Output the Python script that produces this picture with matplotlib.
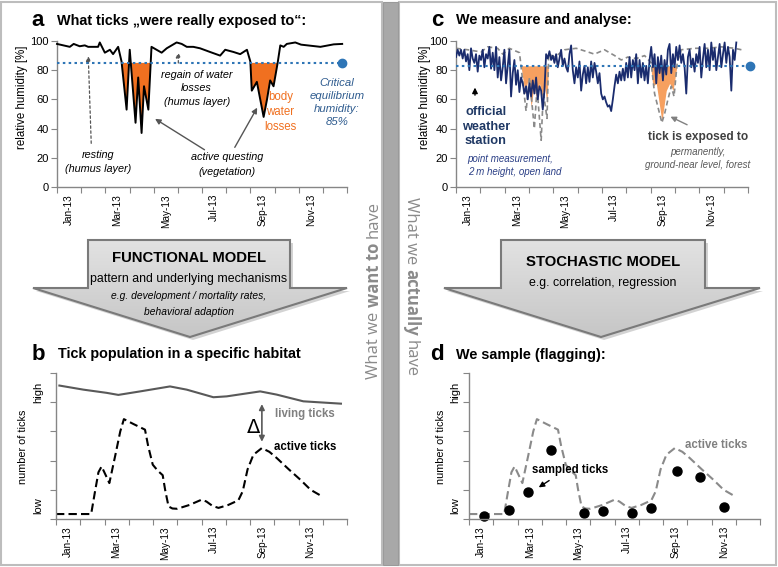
import numpy as np
import matplotlib
matplotlib.use('Agg')
import matplotlib.pyplot as plt
from matplotlib.patches import Polygon, Rectangle
from matplotlib.colors import LinearSegmentedColormap

FAM = ['Liberation Sans', 'DejaVu Sans']
plt.rcParams['font.family'] = FAM

# ---------------- data ----------------
month_labels = ['Jan-13', 'Mar-13', 'May-13', 'Jul-13', 'Sep-13', 'Nov-13']
month_label_pos = [0.5, 2.5, 4.5, 6.5, 8.5, 10.5]

# panel a: humidity ticks were exposed to (x in months since Jan 1)
a_x = [0, 0.53, 0.69, 0.94, 1.15, 1.29, 1.7, 1.77, 1.98, 2.19, 2.32, 2.53, 2.67, 2.88, 3.01,
       3.25, 3.36, 3.5, 3.6, 3.78, 3.91, 4.12, 4.33, 4.54, 4.95, 5.16, 5.37, 5.64, 5.92, 6.33,
       6.75, 6.96, 7.3, 7.58, 7.86, 8.0, 8.06, 8.27, 8.55, 8.69, 8.82, 8.96, 9.13, 9.24, 9.38,
       9.51, 9.86, 10.1, 10.9, 11.45, 11.8]
a_y = [98, 96, 98, 96.4, 97, 96, 96, 99, 92, 94, 91, 96, 86, 53, 94,
       44, 75, 37, 69, 53, 96, 94, 92, 95, 99, 98, 96, 96, 95, 92.5,
       90, 94, 92.5, 91, 94, 86, 66, 72, 48, 60, 73, 69, 85, 97, 96,
       98, 99, 97.5, 96, 97.7, 98]
a_critical = 85
a_critical_end = 11.8

# panel c: official weather station (roughly every two days)
c_station = [89, 94, 90, 94, 88, 94, 86, 91, 80, 95, 88, 85, 91, 79, 90,
             87, 94, 82, 91, 88, 96, 81, 92, 80, 96, 75, 89, 73, 82,
             94, 71, 83, 94, 62, 78, 87, 70, 80, 65, 75, 71, 64, 69,
             60, 71, 62, 73, 64, 75, 60, 69, 66, 53, 66, 91, 88, 93, 87, 90,
             85, 91, 82, 88, 94, 83, 88, 82, 79, 91, 97, 80, 71, 82,
             75, 86, 66, 77, 83, 71, 82, 72, 86, 75, 85, 79, 71, 78,
             64, 60, 62, 58, 55, 56, 52, 60, 69, 77, 71, 79, 73, 81, 73,
             85, 75, 89, 75, 87, 80, 91, 71, 87, 75, 85, 73, 83, 71, 87,
             96, 82, 91, 71, 89, 78, 90, 73, 87, 77, 94, 98, 78, 91,
             82, 96, 87, 97, 85, 91, 82, 64, 89, 94, 82, 88, 79, 91, 85,
             96, 75, 88, 98, 82, 94, 80, 99, 87, 95, 80, 89, 98, 82, 91,
             99, 85, 96, 89, 66, 94, 87, 99]
c_station_start, c_station_end = 0.0, 11.52

# panel c: what the tick is exposed to (grey dashed)
c_exp_x = [0, 0.48, 1.03, 1.30, 1.71, 1.92, 2.19, 2.61, 2.67, 2.88, 3.02, 3.22, 3.33, 3.50,
           3.59, 3.74, 3.81, 4.05, 4.46, 4.94, 5.42, 5.69, 6.10, 6.52, 6.79, 7.06, 7.41, 7.75,
           8.02, 8.16, 8.46, 8.57, 8.71, 8.85, 8.96, 9.09, 9.26, 9.81, 10.36, 10.91, 11.45, 11.73]
c_exp_y = [95, 94, 92.5, 96, 95, 91, 95, 92, 83, 52, 75, 40, 68, 32,
           65, 47, 91, 89, 94, 95, 92.5, 91, 94, 90, 87, 89, 88, 90,
           85, 64, 44, 50, 60, 69, 62, 85, 94, 95, 95, 96, 95, 94]
c_fill1_x = [2.67, 2.74, 2.84, 2.95, 3.09, 3.20, 3.32, 3.43, 3.53, 3.64, 3.74, 3.80]
c_fill1_y = [83, 75, 64, 73, 55, 69, 60, 71, 62, 69, 57, 83]
c_fill2_x = [8.0, 8.09, 8.23, 8.46, 8.64, 8.78, 8.92, 9.08]
c_fill2_y = [83, 69, 71, 45, 66, 71, 66, 83]
c_critical = 83
c_critical_end = 12.07

# panel b / d: tick numbers (relative scale 0..5)
living_x = [0.14, 1.13, 2.09, 2.57, 3.47, 4.7, 5.39, 6.49, 7.04, 8.42, 9.1, 10.2, 11.75]
living_y = [4.57, 4.43, 4.32, 4.25, 4.37, 4.54, 4.43, 4.17, 4.2, 4.37, 4.26, 4.03, 3.95]
active_x = [0.0, 1.45, 1.6, 1.75, 1.88, 2.05, 2.2, 2.45, 2.65, 2.8, 3.2, 3.67, 3.8, 3.99, 4.2,
            4.4, 4.5, 4.64, 4.8, 5.0, 5.5, 6.0, 6.2, 6.45, 6.7, 7.1, 7.52, 7.7, 7.9, 8.14,
            8.49, 8.8, 9.1, 9.6, 10.07, 10.5, 10.96]
active_y = [0.17, 0.17, 0.9, 1.6, 1.8, 1.5, 1.23, 2.2, 3.0, 3.42, 3.25, 3.06, 2.5, 1.86, 1.65,
            1.5, 1.0, 0.43, 0.36, 0.35, 0.48, 0.66, 0.6, 0.45, 0.38, 0.48, 0.64, 0.95, 1.7, 2.2,
            2.43, 2.3, 2.09, 1.7, 1.35, 1.0, 0.78]
sample_x = [0.62, 1.65, 2.45, 3.40, 4.73, 5.53, 6.71, 7.51, 8.57, 9.52, 10.52]
sample_y = [0.11, 0.32, 0.93, 2.35, 0.21, 0.26, 0.19, 0.37, 1.64, 1.43, 0.41]

# ---------------- colours ----------------
AX_GREY = '#868686'
ORANGE = '#F07020'
ORANGE_L = '#F6A060'
NAVY = '#1A2C6E'
CRIT = '#2E75B6'
CRIT_TXT = '#2F5C8F'

W, H = 778, 567
fig = plt.figure(figsize=(W / 100, H / 100), dpi=100)
fig.patch.set_facecolor('white')

# overlay axes in pixel coordinates
ov = fig.add_axes([0, 0, 1, 1], zorder=0)
ov.set_xlim(0, W)
ov.set_ylim(H, 0)
ov.axis('off')

# panel frames and centre stripe
ov.add_patch(Rectangle((1.5, 1.5), 381, 563.5, fill=False, ec='#BDBDBD', lw=1.5))
ov.add_patch(Rectangle((399.5, 1.5), 376.5, 563.5, fill=False, ec='#BDBDBD', lw=1.5))
ov.add_patch(Rectangle((383.5, 1.5), 15, 563.5, fc='#A8A8A8', ec='#9A9A9A', lw=0.8))

grad_cmap = LinearSegmentedColormap.from_list('g', ['#E2E2E2', '#C6C6C6'])


def block_arrow(sl, sr, top, hb, hl, hr, tipx, tipy):
    pts = [(sl, top), (sr, top), (sr, hb), (hr, hb), (tipx, tipy), (hl, hb), (sl, hb)]
    shadow = Polygon([(x + 3, y + 3) for x, y in pts], closed=True, fc='#9E9E9E', ec='none',
                     alpha=0.45, zorder=1)
    ov.add_patch(shadow)
    poly = Polygon(pts, closed=True, fc='none', ec='#7A7A7A', lw=1.5, zorder=3)
    ov.add_patch(poly)
    grad = np.linspace(0, 1, 100).reshape(-1, 1)
    im = ov.imshow(grad, cmap=grad_cmap, extent=(hl, hr, tipy, top), origin='upper',
                   aspect='auto', zorder=2)
    clip = Polygon(pts, closed=True, transform=ov.transData)
    im.set_clip_path(clip)


block_arrow(88, 290, 240, 288, 33, 347, 190, 337)
block_arrow(501, 705, 240, 288, 444, 760, 601, 337)
ov.set_xlim(0, W)
ov.set_ylim(H, 0)

ov.text(189, 258, 'FUNCTIONAL MODEL', ha='center', va='center', fontsize=10.7, fontweight='bold', zorder=5)
ov.text(189, 279, 'pattern and underlying mechanisms', ha='center', va='center', fontsize=8.9, zorder=5)
ov.text(189, 296, 'e.g. development / mortality rates,', ha='center', va='center', fontsize=7.4,
        style='italic', zorder=5)
ov.text(189, 312, 'behavioral adaption', ha='center', va='center', fontsize=7.4, style='italic', zorder=5)
ov.text(603, 262, 'STOCHASTIC MODEL', ha='center', va='center', fontsize=10.7, fontweight='bold', zorder=5)
ov.text(603, 283, 'e.g. correlation, regression', ha='center', va='center', fontsize=8.9, zorder=5)

# panel letters and titles
for letter, lx, tx, ty, title in [('a', 38, 57, 21, 'What ticks \u201ewere really exposed to\u201c:'),
                                  ('c', 437, 456, 20, 'We measure and analyse:'),
                                  ('b', 38, 58, 354, 'Tick population in a specific habitat'),
                                  ('d', 437, 456, 355, 'We sample (flagging):')]:
    ov.text(lx, ty, letter, ha='center', va='center', fontsize=16, fontweight='bold')
    ov.text(tx, ty, title, ha='left', va='center', fontsize=10.4, fontweight='bold')

# y-axis labels
ov.text(22, 97, 'relative humidity [%]', rotation=90, ha='center', va='center', fontsize=8.3)
ov.text(425, 97, 'relative humidity [%]', rotation=90, ha='center', va='center', fontsize=8.3)
ov.text(23, 447, 'number of ticks', rotation=90, ha='center', va='center', fontsize=7.8)
ov.text(441, 447, 'number of ticks', rotation=90, ha='center', va='center', fontsize=7.8)
for xx in (38, 455):
    ov.text(xx, 392, 'high', rotation=90, ha='center', va='center', fontsize=8)
    ov.text(xx, 506, 'low', rotation=90, ha='center', va='center', fontsize=8)

# rotated mixed-weight side texts
renderer = fig.canvas.get_renderer()
VFONT = ['Open Sans', 'DejaVu Sans']


def text_w(s, weight, fs):
    t = ov.text(0, 0, s, fontsize=fs, fontweight=weight, family=VFONT)
    w = t.get_window_extent(renderer=renderer).width
    t.remove()
    return w


def side_text(x, yc, parts, rotation, fs=12, color='#8A8A8A'):
    sp = text_w('a a', 'normal', fs) - text_w('aa', 'normal', fs)
    widths = []
    for s, wgt in parts:
        widths.append(text_w(s, wgt, fs))
    total = sum(widths) + sp * (len(parts) - 1)
    if rotation == 90:
        pos = yc + total / 2
        step = -1
    else:
        pos = yc - total / 2
        step = 1
    for (s, wgt), w in zip(parts, widths):
        ov.text(x, pos, s, rotation=rotation, rotation_mode='anchor', ha='left', va='center',
                fontsize=fs, fontweight=wgt, color=color, family=VFONT)
        pos += step * (w + sp)


side_text(374, 290, [('What we', 'normal'), ('want to', 'bold'), ('have', 'normal')], 90)
side_text(411, 287, [('What we', 'normal'), ('actually', 'bold'), ('have', 'normal')], 270)


# ---------------- chart axes ----------------
def px_axes(l, r, t, b):
    return fig.add_axes([l / W, (H - b) / H, (r - l) / W, (b - t) / H], zorder=2)


def setup(ax, ymax, yticks, ylabels):
    ax.patch.set_alpha(0)
    ax.set_xlim(0, 12)
    ax.set_ylim(0, ymax)
    for s in ('top', 'right'):
        ax.spines[s].set_visible(False)
    for s in ('left', 'bottom'):
        ax.spines[s].set_color(AX_GREY)
        ax.spines[s].set_linewidth(1)
    ax.set_xticks(np.arange(0, 13))
    ax.set_xticklabels([])
    ax.set_xticks(month_label_pos, minor=True)
    ax.set_xticklabels(month_labels, minor=True, rotation=90, fontsize=7.2)
    ax.tick_params(axis='x', which='major', length=4, color=AX_GREY, direction='out')
    ax.tick_params(axis='x', which='minor', length=0, pad=5)
    ax.set_yticks(yticks)
    ax.set_yticklabels(ylabels)
    ax.tick_params(axis='y', length=4, color=AX_GREY, labelsize=8, pad=2)


# ---- panel a ----
axa = px_axes(57, 347, 41, 187)
setup(axa, 100, [0, 20, 40, 60, 80, 100], ['0', '20', '40', '60', '80', '100'])
ax_arr = np.array(a_x)
ay_arr = np.array(a_y)
axa.fill_between(ax_arr, ay_arr, a_critical, where=ay_arr < a_critical, interpolate=True,
                 color=ORANGE, lw=0, zorder=1)
axa.plot(a_x, a_y, color='black', lw=1.4, zorder=3, clip_on=False)
axa.plot([0, a_critical_end], [a_critical, a_critical], color=CRIT, ls=(0, (1.2, 1.6)), lw=1.5, zorder=4)
axa.plot([a_critical_end], [a_critical], 'o', color=CRIT, ms=6, zorder=5, clip_on=False)

it = dict(style='italic', fontsize=7.8, ha='center', va='center')
axa.text(5.78, 67.5, 'regain of water\nlosses\n(humus layer)', linespacing=1.45, **it)
axa.annotate('', xy=(5.02, 94), xytext=(5.02, 83),
             arrowprops=dict(arrowstyle='-|>', color='#555555', lw=0.9, ls=(0, (2, 2)), mutation_scale=7))
axa.text(1.70, 17, 'resting\n(humus layer)', linespacing=1.55, **it)
axa.annotate('', xy=(1.29, 91.5), xytext=(1.42, 28),
             arrowprops=dict(arrowstyle='-|>', color='#555555', lw=0.9, ls=(0, (2, 2)), mutation_scale=7))
axa.text(7.03, 15.5, 'active questing\n(vegetation)', linespacing=1.55, **it)
axa.annotate('', xy=(3.96, 47.7), xytext=(6.2, 24.5),
             arrowprops=dict(arrowstyle='-|>', color='#555555', lw=1.0, mutation_scale=8))
axa.annotate('', xy=(8.34, 56), xytext=(7.3, 25.5),
             arrowprops=dict(arrowstyle='-|>', color='#555555', lw=1.0, mutation_scale=8))
axa.text(9.24, 51.6, 'body\nwater\nlosses', color=ORANGE, fontsize=8.3, ha='center', va='center',
         linespacing=1.35)
axa.text(11.59, 58, 'Critical\nequilibrium\nhumidity:\n85%', color=CRIT_TXT, fontsize=8.2,
         style='italic', ha='center', va='center', linespacing=1.35)

# ---- panel c ----
axc = px_axes(456, 748, 41, 187)
setup(axc, 100, [0, 20, 40, 60, 80, 100], ['0', '20', '40', '60', '80', '100'])
axc.fill_between(c_fill1_x, c_fill1_y, c_critical, color=ORANGE_L, lw=0, zorder=1)
axc.fill_between(c_fill2_x, c_fill2_y, c_critical, color=ORANGE_L, lw=0, zorder=1)
axc.plot(c_exp_x, c_exp_y, color='#8A8A8A', lw=1.2, ls=(0, (3, 2)), zorder=2)
c_station_x = np.linspace(c_station_start, c_station_end, len(c_station))
axc.plot(c_station_x, c_station, color=NAVY, lw=1.3, zorder=3)
axc.plot([0, c_critical_end], [c_critical, c_critical], color=CRIT, ls=(0, (1.2, 1.6)), lw=1.5,
         zorder=4, clip_on=False)
axc.plot([c_critical_end], [c_critical], 'o', color=CRIT, ms=6, zorder=5, clip_on=False)

axc.annotate('', xy=(0.78, 70), xytext=(0.78, 61),
             arrowprops=dict(arrowstyle='-|>', color='black', lw=1.0, mutation_scale=8))
axc.text(1.23, 41.4, 'official\nweather\nstation', color='#1F3864', fontsize=9.2, fontweight='bold',
         ha='center', va='center', linespacing=1.3)
axc.text(0.48, 14.8, 'point measurement,\n2 m height, open land', color='#2B3F86', fontsize=7,
         style='italic', ha='left', va='center', linespacing=1.45)
axc.text(9.95, 34.5, 'tick is exposed to', color='#404040', fontsize=8.6, fontweight='bold',
         ha='center', va='center')
axc.text(9.95, 19.5, 'permanently,\nground-near level, forest', color='#595959', fontsize=7,
         style='italic', ha='center', va='center', linespacing=1.45)
axc.annotate('', xy=(8.71, 49), xytext=(9.6, 41.8),
             arrowprops=dict(arrowstyle='-|>', color='#808080', lw=1.0, mutation_scale=8))

# ---- panel b ----
axb = px_axes(56, 347, 373, 519)
setup(axb, 5, [0, 1, 2, 3, 4, 5], ['', '', '', '', '', ''])
axb.plot(living_x, living_y, color='#595959', lw=1.5)
axb.plot(active_x, active_y, color='black', lw=1.5, ls=(0, (4, 2)))
axb.annotate('', xy=(8.49, 4.03), xytext=(8.49, 2.55),
             arrowprops=dict(arrowstyle='<|-|>', color='#595959', lw=1.2, mutation_scale=8))
axb.text(8.14, 3.12, '\u0394', fontsize=14, ha='center', va='center', family=['DejaVu Sans'])
axb.text(10.27, 3.61, 'living ticks', color='#808080', fontsize=8.3, fontweight='bold',
         ha='center', va='center')
axb.text(10.27, 2.47, 'active ticks', color='black', fontsize=8.3, fontweight='bold',
         ha='center', va='center')

# ---- panel d ----
axd = px_axes(469, 760, 373, 519)
setup(axd, 5, [0, 1, 2, 3, 4, 5], ['', '', '', '', '', ''])
axd.plot(active_x, active_y, color='#8A8A8A', lw=1.5, ls=(0, (4, 2)))
axd.plot(sample_x, sample_y, 'o', color='black', ms=6.5, clip_on=False)
axd.text(10.2, 2.55, 'active ticks', color='#808080', fontsize=8.3, fontweight='bold',
         ha='center', va='center')
axd.text(4.15, 1.67, 'sampled ticks', color='black', fontsize=8.3, fontweight='bold',
         ha='center', va='center')
axd.annotate('', xy=(2.78, 1.03), xytext=(3.4, 1.37),
             arrowprops=dict(arrowstyle='-|>', color='black', lw=1.0, mutation_scale=8))

fig.savefig('out.png', dpi=100)
